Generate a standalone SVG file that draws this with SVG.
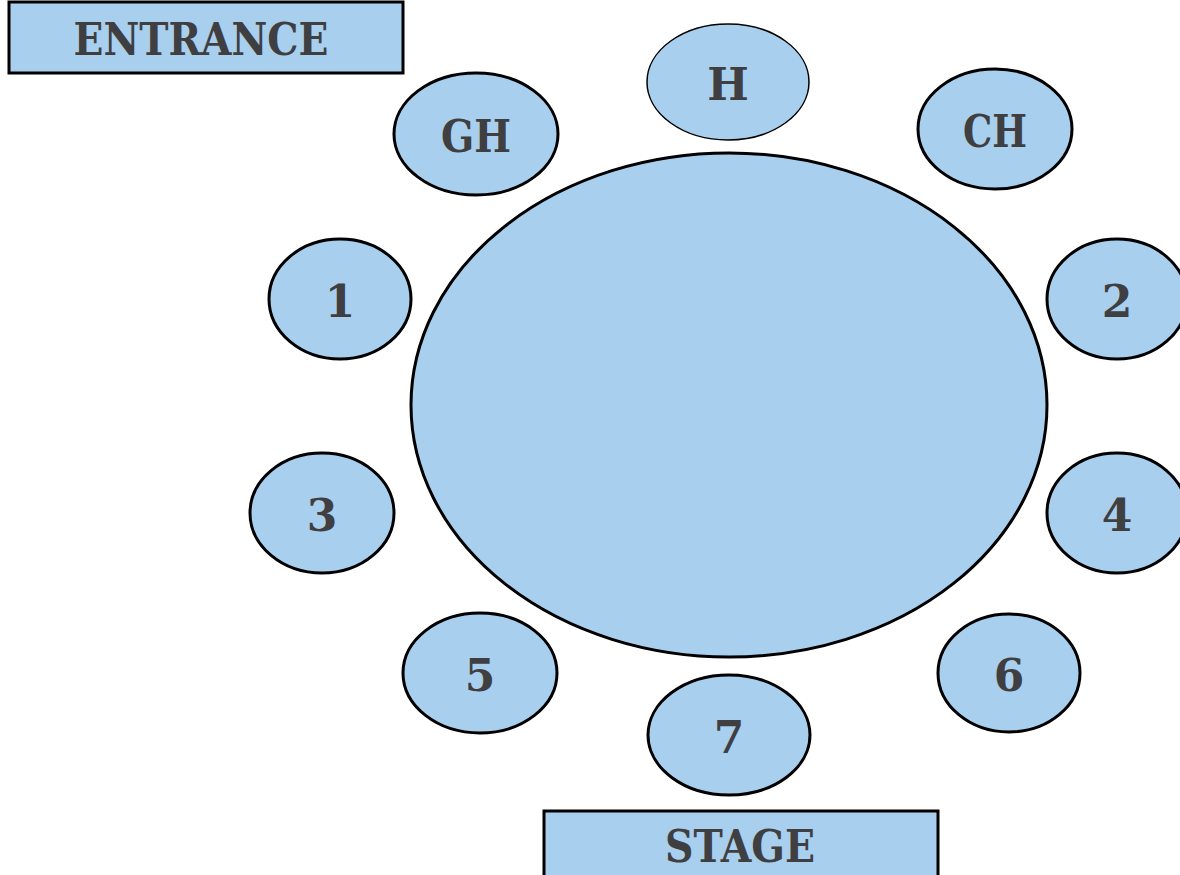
<svg xmlns="http://www.w3.org/2000/svg" width="1180" height="875" viewBox="0 0 1180 875">
<style>
.n{fill:#A9CFEF;stroke:#000;stroke-width:3}
.thin{stroke-width:1.5}
.t{font-family:"DejaVu Serif","Liberation Serif",serif;font-weight:bold;font-size:44px;fill:#3F3F42;text-anchor:middle;dominant-baseline:central}
</style>
<rect width="1180" height="875" fill="#fff"/>
<g id="connectors"></g>
<g id="entrance"><rect class="n" x="9" y="2" width="394" height="71"/><text class="t" x="201" y="39" textLength="255" lengthAdjust="spacingAndGlyphs">ENTRANCE</text></g>
<g id="table"><ellipse class="n" cx="729" cy="405" rx="318" ry="252"/></g>
<g id="seat-H"><ellipse class="n thin" cx="728" cy="82" rx="81" ry="58"/><text class="t" x="728" y="84">H</text></g>
<g id="seat-GH"><ellipse class="n" cx="476" cy="134" rx="82" ry="61"/><text class="t" x="476" y="136" textLength="70" lengthAdjust="spacingAndGlyphs">GH</text></g>
<g id="seat-CH"><ellipse class="n" cx="995" cy="129" rx="77" ry="60"/><text class="t" x="995" y="131" textLength="64" lengthAdjust="spacingAndGlyphs">CH</text></g>
<g id="seat-1"><ellipse class="n" cx="340" cy="299" rx="71" ry="60"/><text class="t" x="340" y="301">1</text></g>
<g id="seat-2"><ellipse class="n" cx="1117" cy="299" rx="70" ry="60"/><text class="t" x="1117" y="301">2</text></g>
<g id="seat-3"><ellipse class="n" cx="322" cy="513" rx="72" ry="60"/><text class="t" x="322" y="515">3</text></g>
<g id="seat-4"><ellipse class="n" cx="1117" cy="513" rx="70" ry="60"/><text class="t" x="1117" y="515">4</text></g>
<g id="seat-5"><ellipse class="n" cx="480" cy="673" rx="77" ry="60"/><text class="t" x="480" y="675">5</text></g>
<g id="seat-6"><ellipse class="n" cx="1009" cy="673" rx="71" ry="59"/><text class="t" x="1009" y="675">6</text></g>
<g id="seat-7"><ellipse class="n" cx="729" cy="735" rx="81" ry="60"/><text class="t" x="729" y="737">7</text></g>
<g id="stage"><rect class="n" x="544" y="811" width="394" height="80"/><text class="t" x="740" y="846" textLength="150" lengthAdjust="spacingAndGlyphs">STAGE</text></g>
</svg>
